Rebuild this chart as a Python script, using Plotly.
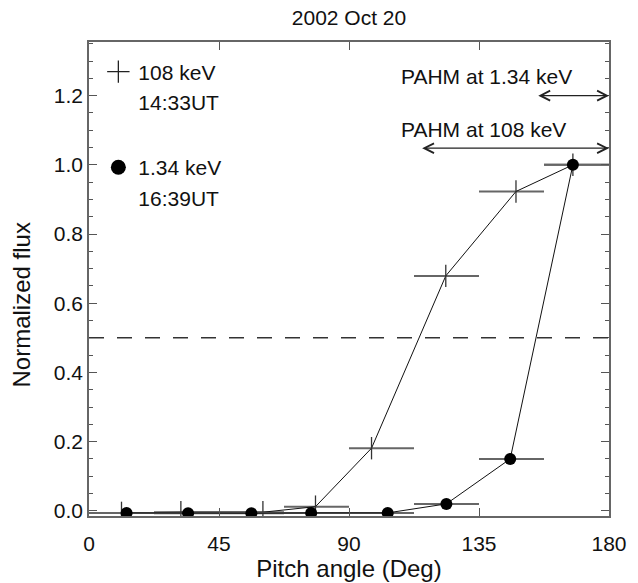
import plotly.graph_objects as go

# ---- data ----
bin_edges = [0, 22.5, 45, 67.5, 90, 112.5, 135, 157.5, 180]

# 108 keV, 14:33UT (crosses)
x_108 = [11.25, 31.8, 60.2, 78.4, 97.8, 123.5, 147.8, 167.5]
y_108 = [-0.006, -0.004, -0.004, 0.012, 0.181, 0.679, 0.923, 1.0]

# 1.34 keV, 16:39UT (filled circles)
x_134 = [13.0, 34.3, 56.2, 76.9, 103.4, 123.7, 145.8, 167.5]
y_134 = [-0.006, -0.007, -0.007, -0.006, -0.006, 0.02, 0.150, 1.0]

half_max = 0.5
pahm_134 = [155.0, 180.0]   # pitch-angle half maximum range at 1.34 keV
pahm_108 = [114.8, 180.0]   # pitch-angle half maximum range at 108 keV
pahm_134_level = 1.20
pahm_108_level = 1.048

title_text = "2002 Oct 20"
x_title = "Pitch angle (Deg)"
y_title = "Normalized flux"
x_ticks = [0, 45, 90, 135, 180]

FONT = "Liberation Sans, Arial, Helvetica, sans-serif"
FS_TICK = 21
FS_AX = 24
FS_TXT = 21
INK = "#111111"
BAR = "#666666"


def bars(xs):
    plus, minus = [], []
    for i, xv in enumerate(xs):
        plus.append(bin_edges[i + 1] - xv)
        minus.append(xv - bin_edges[i])
    return plus, minus


p108, m108 = bars(x_108)
p134, m134 = bars(x_134)

fig = go.Figure()

fig.add_trace(go.Scatter(
    x=x_108, y=y_108, mode="lines+markers",
    line=dict(color=INK, width=1),
    marker=dict(symbol="line-ns", size=16, color=INK,
                line=dict(color="#333333", width=1.3)),
    error_x=dict(type="data", symmetric=False, array=p108, arrayminus=m108,
                 width=0, thickness=2, color=BAR),
    showlegend=False, hoverinfo="skip"))

fig.add_trace(go.Scatter(
    x=x_134, y=y_134, mode="lines+markers",
    line=dict(color=INK, width=1),
    marker=dict(symbol="circle", size=12, color="black"),
    error_x=dict(type="data", symmetric=False, array=p134, arrayminus=m134,
                 width=0, thickness=2, color=BAR),
    showlegend=False, hoverinfo="skip"))

# legend-only entries
fig.add_trace(go.Scatter(x=[None], y=[None], mode="markers", name="108 keV",
                         legendgroup="a",
                         marker=dict(symbol="cross-thin", size=17, color=INK,
                                     line=dict(color="#222222", width=1.3))))
fig.add_trace(go.Scatter(x=[None], y=[None], mode="markers", name="14:33UT",
                         legendgroup="a",
                         marker=dict(symbol="circle", size=1, color="rgba(0,0,0,0)")))
fig.add_trace(go.Scatter(x=[None], y=[None], mode="markers", name="1.34 keV",
                         legendgroup="b",
                         marker=dict(symbol="circle", size=15, color="black")))
fig.add_trace(go.Scatter(x=[None], y=[None], mode="markers", name="16:39UT",
                         legendgroup="b",
                         marker=dict(symbol="circle", size=1, color="rgba(0,0,0,0)")))

# half-maximum reference line
fig.add_shape(type="line", xref="paper", x0=0, x1=1, yref="y", y0=half_max, y1=half_max,
              line=dict(color="#333333", width=1.5, dash="15px,13px"))

# PAHM arrows
for rng, lvl in [(pahm_134, pahm_134_level), (pahm_108, pahm_108_level)]:
    fig.add_annotation(x=rng[1], y=lvl, ax=rng[0], ay=lvl, xref="x", yref="y",
                       axref="x", ayref="y", text="", showarrow=True,
                       arrowhead=5, startarrowhead=5, arrowside="end+start",
                       arrowsize=1.6, startarrowsize=1.6, arrowwidth=1.2,
                       arrowcolor="#222222", standoff=0, startstandoff=0)

fig.add_annotation(x=107.3, y=1.255, xref="x", yref="y",
                   text="PAHM at 1.34 keV", showarrow=False, xanchor="left",
                   yanchor="middle", font=dict(family=FONT, size=FS_TXT, color=INK))
fig.add_annotation(x=107.3, y=1.101, xref="x", yref="y",
                   text="PAHM at 108 keV", showarrow=False, xanchor="left",
                   yanchor="middle", font=dict(family=FONT, size=FS_TXT, color=INK))

# y-axis title (sits a little below the axis centre in the reference)
fig.add_annotation(x=-0.13, y=0.445, xref="paper", yref="paper", text=y_title,
                   textangle=-90, showarrow=False, xanchor="center", yanchor="middle",
                   font=dict(family=FONT, size=FS_AX, color=INK))

fig.update_layout(
    width=638, height=583,
    margin=dict(l=89, r=29, t=42, b=67, autoexpand=False),
    paper_bgcolor="white", plot_bgcolor="white",
    font=dict(family=FONT, size=FS_TXT, color=INK),
    title=dict(text=title_text, x=0.5, xref="paper", xanchor="center", y=1 - 18 / 583,
               yref="container", yanchor="middle",
               font=dict(family=FONT, size=FS_TXT, color=INK)),
    showlegend=True,
    legend=dict(x=0.018, y=0.98, xanchor="left", yanchor="top",
                bgcolor="rgba(0,0,0,0)", borderwidth=0,
                traceorder="grouped", tracegroupgap=35, valign="top",
                itemclick=False, itemdoubleclick=False,
                font=dict(family=FONT, size=FS_TXT, color=INK)),
)

fig.update_xaxes(range=[0, 180], tickvals=x_ticks, ticks="inside", ticklen=8,
                 tickwidth=1.3, tickcolor="#555555", showline=True, linewidth=1.5,
                 linecolor="#666666", mirror="ticks", showgrid=False, zeroline=False,
                 ticklabelstandoff=8, automargin=False,
                 title=dict(text=x_title, standoff=5,
                            font=dict(family=FONT, size=FS_AX, color=INK)),
                 tickfont=dict(family=FONT, size=FS_TICK, color=INK))

fig.update_yaxes(range=[-0.015, 1.355], dtick=0.2, tick0=0, tickformat=".1f",
                 ticks="inside", ticklen=8, tickwidth=1.3, tickcolor="#555555",
                 minor=dict(dtick=0.05, tick0=0, ticks="inside", ticklen=4,
                            tickcolor="#555555", tickwidth=1.2),
                 showline=True, linewidth=1.5, linecolor="#666666", mirror="ticks",
                 showgrid=False, zeroline=False, automargin=False,
                 tickfont=dict(family=FONT, size=FS_TICK, color=INK))

fig.write_html("out.html")
